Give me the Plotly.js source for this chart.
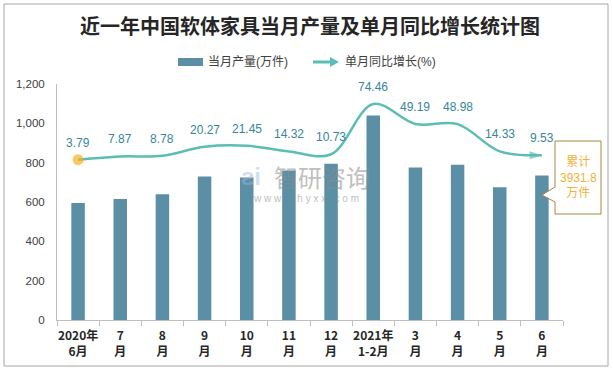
<!DOCTYPE html>
<html>
<head>
<meta charset="utf-8">
<script src="https://cdn.plot.ly/plotly-3.0.1.min.js"></script>
<style>html,body{margin:0;padding:0;background:#fff;}#chart{width:613px;height:370px;}</style>
</head>
<body>
<div id="chart"></div>
<script>
// ---- data ----
const categories = ["2020年<br>6月","7<br>月","8<br>月","9<br>月","10<br>月","11<br>月","12<br>月","2021年<br>1-2月","3<br>月","4<br>月","5<br>月","6<br>月"];
const production = [595, 615, 640, 730, 725, 760, 795, 1040, 775, 790, 675, 735];
const growth = [3.79, 7.87, 8.78, 20.27, 21.45, 14.32, 10.73, 74.46, 49.19, 48.98, 14.33, 9.53];
const yTicks = [0, 200, 400, 600, 800, 1000, 1200];
const seriesNames = ["当月产量(万件)", "单月同比增长(%)"];
const titleText = "近一年中国软体家具当月产量及单月同比增长统计图";
const totalNote = ["累计", "3931.8", "万件"];

// ---- layout helpers (plot area in pixels: x 57..563, y 84..320) ----
const L = 57, R = 563, T = 84, B = 320;
const px = x => (x - L) / (R - L);
const py = y => (B - y) / (B - T);

const FONT = "Liberation Sans, Noto Sans CJK SC, sans-serif";
const barColor = "#5B8FA5";
const lineColor = "#5BBDB3";
const labelColor = "#37869A";
const n = growth.length;

const bars = {
  type: "bar", x: categories, y: production, name: seriesNames[0],
  marker: {color: barColor}, width: 0.32, showlegend: false, hoverinfo: "x+y"
};
const line = {
  type: "scatter", mode: "lines+markers", x: categories, y: growth, yaxis: "y2",
  name: seriesNames[1], showlegend: false,
  line: {color: lineColor, width: 2.5, shape: "spline", smoothing: 1},
  marker: {
    color: growth.map((v, i) => i === 0 ? "#F5B021" : lineColor),
    size: growth.map((v, i) => i === 0 ? 11 : (i === n - 1 ? 13 : 0)),
    symbol: growth.map((v, i) => i === n - 1 ? "arrow" : "circle"),
    angle: growth.map((v, i) => i === n - 1 ? 90 : 0),
    line: {width: 0}
  }
};

const annotations = growth.map((v, i) => ({
  x: categories[i], y: v, xref: "x", yref: "y2", text: v.toFixed(2),
  showarrow: false, yshift: 17, font: {family: FONT, size: 12, color: labelColor}
}));

// legend text
annotations.push({xref: "paper", yref: "paper", x: px(206), y: py(62), xanchor: "left", yanchor: "middle",
  text: seriesNames[0], showarrow: false, font: {family: FONT, size: 12, color: "#404040"}});
annotations.push({xref: "paper", yref: "paper", x: px(343), y: py(62), xanchor: "left", yanchor: "middle",
  text: seriesNames[1], showarrow: false, font: {family: FONT, size: 12, color: "#404040"}});

// callout text
annotations.push({xref: "paper", yref: "paper", x: px(578), y: py(177), xanchor: "center", yanchor: "middle",
  text: totalNote.join("<br>"), showarrow: false, align: "center",
  font: {family: FONT, size: 12, color: "#F2B23A"}});

// watermark
annotations.push({xref: "paper", yref: "paper", x: px(322), y: py(176), xanchor: "center", yanchor: "middle",
  text: "智研咨询", showarrow: false, opacity: 0.55,
  font: {family: "Noto Sans CJK SC, sans-serif", size: 24, color: "#8C8C8C"}});
annotations.push({xref: "paper", yref: "paper", x: px(306), y: py(198), xanchor: "center", yanchor: "middle",
  text: "w w w . c h y x x . c o m", showarrow: false, opacity: 0.55,
  font: {family: FONT, size: 10, color: "#8C8C8C"}});
annotations.push({xref: "paper", yref: "paper", x: px(251), y: py(176), xanchor: "center", yanchor: "middle",
  text: "<b>ƨi</b>", showarrow: false, opacity: 0.45,
  font: {family: FONT, size: 24, color: "#9DB8DA"}});

const shapes = [
  // outer frame
  {type: "rect", xref: "paper", yref: "paper", x0: px(4), x1: px(608), y0: py(4), y1: py(366),
   line: {color: "#A6A6A6", width: 1}, fillcolor: "rgba(0,0,0,0)", layer: "below"},
  // legend swatch (bar)
  {type: "rect", xref: "paper", yref: "paper", x0: px(178), x1: px(203), y0: py(58), y1: py(66),
   line: {width: 0}, fillcolor: barColor},
  // legend line + arrow
  {type: "line", xref: "paper", yref: "paper", x0: px(313), x1: px(332), y0: py(62), y1: py(62),
   line: {color: lineColor, width: 3}},
  {type: "path", xref: "paper", yref: "paper",
   path: `M ${px(330)} ${py(57)} L ${px(339)} ${py(62)} L ${px(330)} ${py(67)} Z`,
   line: {width: 0}, fillcolor: lineColor},
  // callout box
  {type: "path", xref: "paper", yref: "paper",
   path: `M ${px(555)} ${py(141)} L ${px(601)} ${py(141)} L ${px(601)} ${py(214)} L ${px(555)} ${py(214)} ` +
         `L ${px(555)} ${py(202)} L ${px(542)} ${py(195)} L ${px(555)} ${py(187)} Z`,
   line: {color: "#A8863E", width: 1}, fillcolor: "#FFFFFF"}
];

const layout = {
  width: 613, height: 370,
  margin: {l: L, r: 613 - R, t: T, b: 370 - B, pad: 0},
  paper_bgcolor: "#FFFFFF", plot_bgcolor: "#FFFFFF",
  font: {family: FONT, size: 12, color: "#404040"},
  title: {text: titleText, x: 0.5, xref: "paper", xanchor: "center", y: 1 - 27 / 370, yanchor: "middle",
    font: {family: "Noto Sans CJK SC, sans-serif", size: 20, color: "#262626", weight: "bold"}},
  showlegend: false,
  xaxis: {type: "category", range: [-0.5, categories.length - 0.5], autorange: false,
    showline: true, linecolor: "#BFBFBF", linewidth: 1, automargin: false,
    ticks: "outside", tickson: "boundaries", ticklen: 5, tickcolor: "#BFBFBF", tickangle: 0,
    ticklabelstandoff: 5, showgrid: false, zeroline: false,
    tickfont: {family: "Noto Sans CJK SC, sans-serif", size: 12, color: "#262626", weight: "bold"}},
  yaxis: {range: [0, 1200], tickvals: yTicks, ticktext: yTicks.map(v => v.toLocaleString("en-US")),
    showline: true, linecolor: "#BFBFBF", linewidth: 1, showgrid: false, zeroline: false, automargin: false,
    ticks: "", ticklabelstandoff: 9, tickfont: {family: FONT, size: 11.5, color: "#404040"}},
  yaxis2: {range: [-200, 100], overlaying: "y", side: "right", visible: false, showgrid: false, zeroline: false},
  annotations: annotations,
  shapes: shapes
};

Plotly.newPlot("chart", [bars, line], layout, {displayModeBar: false, staticPlot: true});
</script>
</body>
</html>
